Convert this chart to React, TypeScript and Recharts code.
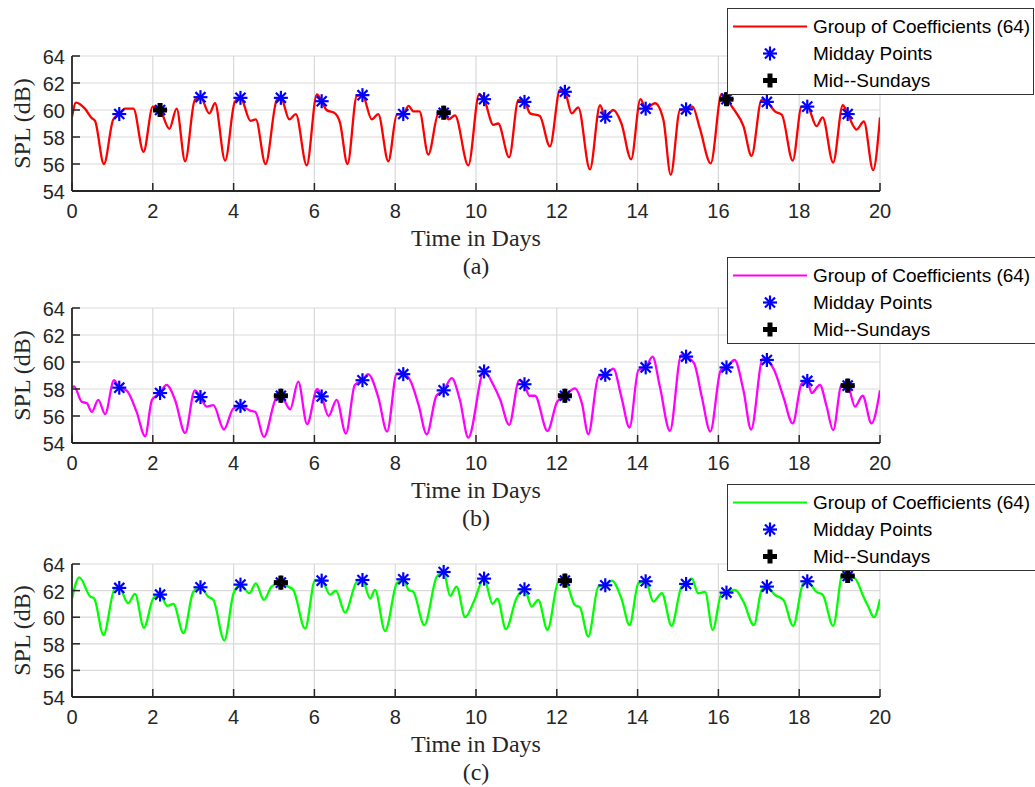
import React from "react";
import { ComposedChart, Line, Scatter, XAxis, YAxis, CartesianGrid } from "recharts";

// axis ticks
const X_TICKS = [0, 2, 4, 6, 8, 10, 12, 14, 16, 18, 20];
const Y_TICKS = [54, 56, 58, 60, 62, 64];

// midday sample times (days)
const MIDDAY_T = [1.17, 2.18, 3.18, 4.17, 5.17, 6.18, 7.19, 8.2, 9.2, 10.2, 11.2, 12.2, 13.2, 14.2, 15.2, 16.2, 17.2, 18.2, 19.2];

// (a) red curve, [day, SPL]
const curveA: [number, number][] = [
  [0, 59.5], [0.1, 60.55], [0.32, 60.1], [0.49, 59.4], [0.57, 59.2], [0.79, 56.0], [1.02, 59.3], [1.17, 59.7],
  [1.31, 60.1], [1.52, 60.1], [1.77, 56.9], [2.0, 60.25], [2.18, 60.0], [2.41, 58.6], [2.59, 60.1], [2.8, 56.2],
  [3.04, 60.75], [3.18, 60.95], [3.4, 59.75], [3.54, 60.5], [3.79, 56.25], [4.03, 60.6], [4.17, 60.9], [4.42, 59.2],
  [4.55, 59.3], [4.79, 56.0], [5.07, 60.75], [5.17, 60.9], [5.38, 59.3], [5.54, 59.7], [5.81, 55.9], [6.06, 61.15],
  [6.18, 60.65], [6.3, 60.0], [6.51, 59.75], [6.63, 59.1], [6.82, 56.0], [7.05, 61.05], [7.19, 61.1], [7.42, 59.3],
  [7.58, 59.7], [7.83, 56.2], [8.04, 59.65], [8.2, 59.7], [8.33, 60.3], [8.45, 59.9], [8.6, 59.9], [8.82, 56.7],
  [9.07, 59.75], [9.2, 59.8], [9.32, 59.3], [9.48, 59.6], [9.81, 55.9], [10.08, 61.2], [10.2, 60.8], [10.43, 58.9],
  [10.55, 59.0], [10.82, 56.5], [11.05, 60.75], [11.2, 60.6], [11.34, 59.75], [11.58, 59.55], [11.83, 57.3], [12.08, 61.5],
  [12.2, 61.35], [12.37, 59.75], [12.53, 60.2], [12.82, 55.6], [13.07, 60.35], [13.2, 59.5], [13.4, 60.0], [13.6, 59.0],
  [13.84, 56.35], [14.07, 60.8], [14.2, 60.1], [14.43, 60.5], [14.64, 59.25], [14.82, 55.2], [15.05, 60.0], [15.2, 60.05],
  [15.36, 60.25], [15.54, 58.65], [15.81, 56.05], [16.08, 61.2], [16.2, 60.8], [16.37, 60.1], [16.62, 58.8], [16.82, 56.6],
  [17.07, 60.75], [17.2, 60.6], [17.4, 59.9], [17.57, 59.65], [17.84, 56.25], [18.06, 60.25], [18.2, 60.25], [18.43, 58.8],
  [18.58, 59.45], [18.84, 56.1], [19.08, 60.35], [19.2, 59.7], [19.42, 58.55], [19.6, 59.15], [19.83, 55.55], [20, 59.45],
];
const middayA = [59.7, 60.0, 60.95, 60.9, 60.9, 60.65, 61.1, 59.7, 59.8, 60.8, 60.6, 61.35, 59.5, 60.1, 60.05, 60.8, 60.6, 60.25, 59.7];
const sundayA: [number, number][] = [[2.18, 60.0], [9.2, 59.8], [16.2, 60.8]];

// (b) magenta curve
const curveB: [number, number][] = [
  [0, 58.1], [0.05, 58.2], [0.24, 57.06], [0.37, 56.94], [0.49, 56.3], [0.65, 57.2], [0.82, 56.15], [1.04, 58.65],
  [1.17, 58.1], [1.35, 57.9], [1.6, 56.3], [1.81, 54.5], [1.98, 57.2], [2.18, 57.7], [2.34, 58.3], [2.55, 57.2],
  [2.8, 54.75], [3.04, 57.9], [3.18, 57.4], [3.33, 56.7], [3.5, 56.8], [3.76, 55.0], [3.99, 56.55], [4.17, 56.75],
  [4.41, 56.4], [4.54, 56.3], [4.75, 54.45], [5.05, 57.3], [5.17, 57.5], [5.4, 56.5], [5.6, 58.55], [5.82, 55.4],
  [6.07, 58.0], [6.18, 57.45], [6.35, 56.0], [6.55, 57.2], [6.78, 54.7], [7.0, 58.3], [7.19, 58.65], [7.33, 59.1],
  [7.58, 57.4], [7.8, 54.85], [8.04, 59.15], [8.2, 59.1], [8.37, 58.65], [8.58, 56.8], [8.78, 54.65], [9.02, 57.5],
  [9.2, 57.9], [9.4, 58.8], [9.6, 57.2], [9.81, 54.4], [10.2, 59.3], [10.43, 58.3], [10.6, 57.2], [10.82, 55.35],
  [11.07, 58.65], [11.2, 58.35], [11.32, 57.5], [11.46, 57.5], [11.77, 54.9], [12.01, 57.06], [12.2, 57.5], [12.45, 58.05],
  [12.62, 56.95], [12.78, 54.65], [13.03, 58.9], [13.2, 59.05], [13.4, 59.5], [13.6, 57.4], [13.8, 55.15], [14.02, 59.4],
  [14.2, 59.6], [14.37, 60.4], [14.55, 58.2], [14.8, 54.9], [15.08, 60.5], [15.2, 60.4], [15.4, 59.9], [15.59, 57.4],
  [15.8, 54.85], [16.06, 59.4], [16.2, 59.6], [16.4, 60.15], [16.62, 57.9], [16.81, 55.0], [17.1, 60.25], [17.2, 60.15],
  [17.38, 59.4], [17.61, 57.4], [17.84, 55.45], [18.06, 58.4], [18.2, 58.6], [18.31, 57.7], [18.51, 58.3], [18.68, 56.7],
  [18.84, 54.95], [19.05, 58.3], [19.2, 58.25], [19.38, 56.7], [19.57, 57.5], [19.79, 55.45], [20, 57.9],
];
const middayB = [58.1, 57.7, 57.4, 56.75, 57.5, 57.45, 58.65, 59.1, 57.9, 59.3, 58.35, 57.5, 59.05, 59.6, 60.4, 59.6, 60.15, 58.6, 58.25];
const sundayB: [number, number][] = [[5.17, 57.5], [12.2, 57.5], [19.2, 58.25]];

// (c) green curve
const curveC: [number, number][] = [
  [0, 61.4], [0.18, 63.0], [0.45, 61.55], [0.55, 61.4], [0.78, 58.66], [1.06, 62.15], [1.17, 62.2], [1.39, 61.05],
  [1.56, 61.75], [1.78, 59.2], [2.01, 61.4], [2.18, 61.7], [2.36, 60.85], [2.51, 61.0], [2.76, 58.8], [3.0, 61.9],
  [3.18, 62.25], [3.37, 61.55], [3.5, 61.3], [3.77, 58.25], [4.0, 61.8], [4.17, 62.45], [4.39, 61.8], [4.55, 62.55],
  [4.75, 61.3], [4.94, 62.3], [5.17, 62.6], [5.35, 62.3], [5.48, 62.05], [5.77, 59.15], [6.02, 62.8], [6.18, 62.75],
  [6.39, 61.7], [6.53, 62.0], [6.76, 60.35], [7.05, 62.67], [7.19, 62.8], [7.38, 61.4], [7.5, 62.05], [7.75, 58.96],
  [8.04, 62.55], [8.2, 62.85], [8.33, 62.05], [8.45, 61.9], [8.72, 59.4], [9.03, 63.05], [9.2, 63.4], [9.36, 61.6],
  [9.52, 62.3], [9.73, 60.0], [9.95, 61.2], [10.2, 62.9], [10.41, 61.0], [10.53, 61.4], [10.74, 59.1], [11.0, 61.4],
  [11.2, 62.1], [11.38, 60.8], [11.54, 61.3], [11.77, 59.05], [12.04, 62.67], [12.2, 62.75], [12.45, 60.9], [12.57, 60.75],
  [12.78, 58.55], [13.03, 62.3], [13.2, 62.4], [13.36, 62.75], [13.6, 61.4], [13.8, 59.4], [14.02, 62.55], [14.2, 62.7],
  [14.39, 61.17], [14.6, 61.8], [14.84, 59.35], [15.09, 62.3], [15.2, 62.5], [15.34, 62.92], [15.5, 61.8], [15.67, 61.9],
  [15.86, 59.05], [16.08, 61.8], [16.2, 61.85], [16.41, 62.05], [16.62, 61.17], [16.88, 59.4], [17.07, 62.05], [17.2, 62.3],
  [17.4, 61.67], [17.61, 61.3], [17.85, 59.35], [18.1, 62.55], [18.2, 62.7], [18.43, 61.9], [18.58, 61.7], [18.84, 59.35],
  [19.08, 63.3], [19.2, 63.1], [19.38, 62.92], [19.59, 61.55], [19.71, 60.8], [19.85, 60.0], [20, 61.35],
];
const middayC = [62.2, 61.7, 62.25, 62.45, 62.6, 62.75, 62.8, 62.85, 63.4, 62.9, 62.1, 62.75, 62.4, 62.7, 62.5, 61.85, 62.3, 62.7, 63.1];
const sundayC: [number, number][] = [[5.17, 62.6], [12.2, 62.75], [19.2, 63.1]];

const SANS = '"Liberation Sans", Arial, sans-serif';
const SERIF = '"Liberation Serif", "Times New Roman", serif';
const INK = "#262626";
const TICK_FONT = 20;

const rows = (pts: [number, number][]) => pts.map(([t, v]) => ({ t, v }));
const midRows = (vals: number[]) => vals.map((v, i) => ({ t: MIDDAY_T[i], v }));

function StarMark({ cx, cy }: any) {
  const r = 7;
  const d = r * 0.72;
  return (
    <g stroke="#0000ff" strokeWidth={2.2}>
      <line x1={cx - r} x2={cx + r} y1={cy} y2={cy} />
      <line x1={cx} x2={cx} y1={cy - r} y2={cy + r} />
      <line x1={cx - d} x2={cx + d} y1={cy - d} y2={cy + d} />
      <line x1={cx - d} x2={cx + d} y1={cy + d} y2={cy - d} />
    </g>
  );
}

function PlusMark({ cx, cy }: any) {
  const r = 7;
  return (
    <g stroke="#000" strokeWidth={5}>
      <line x1={cx - r} x2={cx + r} y1={cy} y2={cy} />
      <line x1={cx} x2={cx} y1={cy - r} y2={cy + r} />
    </g>
  );
}

const BottomTick = ({ x, y, payload }: any) => (
  <g>
    <line x1={x} x2={x} y1={y - 13} y2={y - 21} stroke={INK} strokeWidth={1.5} />
    <text x={x} y={y + 14} textAnchor="middle" fontFamily={SANS} fontSize={TICK_FONT} fill={INK}>
      {payload.value}
    </text>
  </g>
);
const TopTick = ({ x, y }: any) => <line x1={x} x2={x} y1={y} y2={y + 8} stroke={INK} strokeWidth={1.5} />;
const LeftTick = ({ x, y, payload }: any) => (
  <g>
    <line x1={x + 7} x2={x + 15} y1={y} y2={y} stroke={INK} strokeWidth={1.5} />
    <text x={x} y={y + 8} textAnchor="end" fontFamily={SANS} fontSize={TICK_FONT} fill={INK}>
      {payload.value}
    </text>
  </g>
);
const RightTick = ({ x, y }: any) => <line x1={x} x2={x - 8} y1={y} y2={y} stroke={INK} strokeWidth={1.5} />;

interface PanelProps {
  top: number;
  plotHeight: number;
  color: string;
  curve: [number, number][];
  midday: number[];
  sundays: [number, number][];
  caption: string;
}

function Panel({ top, plotHeight, color, curve, midday, sundays, caption }: PanelProps) {
  const height = 56 + plotHeight + 90;
  return (
    <div style={{ position: "absolute", left: 0, top }}>
      <ComposedChart width={1035} height={height} margin={{ top: 56, right: 155, bottom: 0, left: 0 }}>
        <CartesianGrid stroke="#d9d9d9" strokeWidth={1.2} />
        <XAxis
          dataKey="t"
          type="number"
          domain={[0, 20]}
          ticks={X_TICKS}
          interval={0}
          allowDataOverflow
          height={90}
          tickSize={0}
          tickMargin={13}
          tickLine={false}
          axisLine={{ stroke: INK, strokeWidth: 1.8 }}
          tick={<BottomTick />}
          label={{
            content: ({ viewBox }: any) => (
              <g fontFamily={SERIF} fontSize={24} fill={INK} textAnchor="middle">
                <text x={viewBox.x + viewBox.width / 2} y={viewBox.y + 55}>Time in Days</text>
                <text x={viewBox.x + viewBox.width / 2} y={viewBox.y + 83}>{caption}</text>
              </g>
            ),
          }}
        />
        <XAxis
          xAxisId="top"
          orientation="top"
          type="number"
          domain={[0, 20]}
          ticks={X_TICKS}
          interval={0}
          allowDataOverflow
          height={0}
          tickSize={0}
          tickMargin={0}
          tickLine={false}
          axisLine={{ stroke: INK, strokeWidth: 1.8 }}
          tick={<TopTick />}
        />
        <YAxis
          type="number"
          domain={[54, 64]}
          ticks={Y_TICKS}
          interval={0}
          allowDataOverflow
          width={72}
          tickSize={0}
          tickMargin={7}
          tickLine={false}
          axisLine={{ stroke: INK, strokeWidth: 1.8 }}
          tick={<LeftTick />}
          label={{
            content: ({ viewBox }: any) => {
              const cy = viewBox.y + viewBox.height / 2;
              return (
                <text
                  x={22}
                  y={cy}
                  transform={`rotate(-90 22 ${cy})`}
                  textAnchor="middle"
                  dominantBaseline="central"
                  fontFamily={SERIF}
                  fontSize={24}
                  fill={INK}
                >
                  SPL (dB)
                </text>
              );
            },
          }}
        />
        <YAxis
          yAxisId="right"
          orientation="right"
          type="number"
          domain={[54, 64]}
          ticks={Y_TICKS}
          interval={0}
          allowDataOverflow
          width={0}
          tickSize={0}
          tickMargin={0}
          tickLine={false}
          axisLine={{ stroke: INK, strokeWidth: 1.8 }}
          tick={<RightTick />}
        />
        <Line
          data={rows(curve)}
          dataKey="v"
          type="monotone"
          stroke={color}
          strokeWidth={2.3}
          dot={false}
          isAnimationActive={false}
        />
        <Scatter data={midRows(midday)} dataKey="v" shape={(p: any) => <StarMark {...p} />} isAnimationActive={false} />
        <Scatter data={rows(sundays)} dataKey="v" shape={(p: any) => <PlusMark {...p} />} isAnimationActive={false} />
      </ComposedChart>
    </div>
  );
}

function LegendBox({ top, color, width }: { top: number; color: string; width: number }) {
  const items = ["Group of Coefficients (64)", "Midday Points", "Mid--Sundays"];
  return (
    <div
      style={{
        position: "absolute",
        left: 727,
        top,
        width,
        height: 87,
        boxSizing: "border-box",
        border: "1px solid #333",
        background: "#fff",
        fontFamily: SANS,
        fontSize: 19,
        color: "#000",
      }}
    >
      {items.map((label, i) => (
        <div key={label} style={{ position: "absolute", left: 0, top: 4 + 27 * i, height: 27, width: "100%" }}>
          <svg width={80} height={27} style={{ position: "absolute", left: 5, top: 0 }}>
            {i === 0 && <line x1={0} x2={74} y1={13.5} y2={13.5} stroke={color} strokeWidth={2.2} />}
            {i === 1 && <StarMark cx={37} cy={13.5} />}
            {i === 2 && <PlusMark cx={37} cy={13.5} />}
          </svg>
          <span style={{ position: "absolute", left: 85, top: 0, lineHeight: "27px", whiteSpace: "nowrap" }}>{label}</span>
        </div>
      ))}
    </div>
  );
}

export default function App() {
  return (
    <div style={{ position: "absolute", left: 0, top: 0, width: 1035, height: 787, overflow: "hidden", background: "#fff" }}>
      <Panel top={0} plotHeight={135} color="#ff0000" curve={curveA} midday={middayA} sundays={sundayA} caption="(a)" />
      <Panel top={252} plotHeight={135} color="#ff00ff" curve={curveB} midday={middayB} sundays={sundayB} caption="(b)" />
      <Panel top={508} plotHeight={133} color="#00ff00" curve={curveC} midday={middayC} sundays={sundayC} caption="(c)" />
      <LegendBox top={8} color="#ff0000" width={307} />
      <LegendBox top={257} color="#ff00ff" width={315} />
      <LegendBox top={484} color="#00ff00" width={315} />
    </div>
  );
}
